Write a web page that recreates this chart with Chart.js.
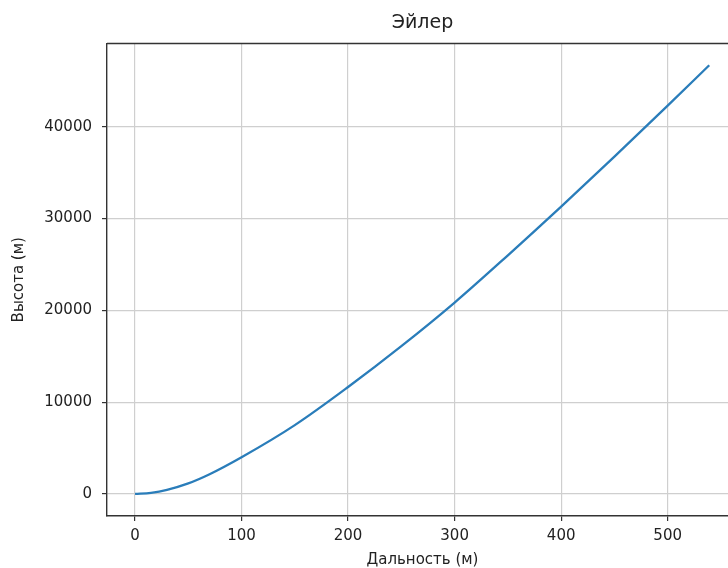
<!DOCTYPE html>
<html>
<head>
<meta charset="utf-8">
<script src="https://cdn.jsdelivr.net/npm/chart.js@4"></script>
<style>
  html, body { margin: 0; padding: 0; overflow: hidden; background: #fff; }
  #wrap { width: 760px; height: 568px; }
</style>
</head>
<body>
<div id="wrap"><canvas id="myChart"></canvas></div>
<script>
// trajectory
var rangeM = [0, 15, 30, 50, 70, 100, 150, 200, 250, 300, 350, 400, 450, 500, 539];
var heightM = [0, 130, 450, 1150, 2150, 4000, 7500, 11650, 16100, 20850, 26000, 31300, 36750, 42300, 46700];
var xTicks = [0, 100, 200, 300, 400, 500];
var yTicks = [0, 10000, 20000, 30000, 40000];

var points = rangeM.map(function(x, i){
  return {x: x, y: heightM[i]};
});

var ink = "#222";
var gridCol = "#cfcfcf";
var spineCol = "#333";

// top + right spines like matplotlib
var frame = {
  id: "frame",
  afterDraw: function(chart){
    var a = chart.chartArea, ctx = chart.ctx;
    ctx.save();
    ctx.strokeStyle = spineCol;
    ctx.lineWidth = 1.3;
    ctx.beginPath();
    ctx.moveTo(a.left, a.top);
    ctx.lineTo(a.right, a.top);
    ctx.lineTo(a.right, a.bottom);
    ctx.stroke();
    ctx.restore();
  }
};

function keepTicks(list){
  return function(scale){
    scale.ticks = list.map(function(v){ return {value: v}; });
  };
}

new Chart("myChart", {
  type: "scatter",
  data: {
    datasets: [{
      data: points,
      showLine: true,
      borderColor: "#2a7dba",
      borderWidth: 2.3,
      pointRadius: 0,
      cubicInterpolationMode: "monotone"
    }]
  },
  options: {
    responsive: true,
    maintainAspectRatio: false,
    animation: false,
    layout: { padding: { left: 0, right: 22, top: 0, bottom: 0 } },
    plugins: {
      legend: { display: false },
      tooltip: { enabled: false },
      title: {
        display: true,
        fullSize: false,
        text: "Эйлер",
        color: ink,
        font: { family: "DejaVu Sans", size: 19, weight: "normal", lineHeight: 1.2 },
        padding: { top: 12, bottom: 8.7 }
      }
    },
    scales: {
      x: {
        type: "linear",
        min: -26.3,
        max: 566,
        afterBuildTicks: keepTicks(xTicks),
        afterFit: function(s){ s.height = 52; },
        grid: { color: gridCol, lineWidth: 1.2, tickColor: spineCol, tickLength: 5, tickWidth: 1.2 },
        border: { display: true, color: spineCol, width: 1.4 },
        ticks: {
          color: ink, padding: 6, maxRotation: 0,
          font: { family: "DejaVu Sans", size: 15 }
        },
        title: {
          display: true,
          text: "Дальность (м)",
          color: ink,
          font: { family: "DejaVu Sans", size: 15, lineHeight: 1 },
          padding: { top: 0, bottom: 0 }
        }
      },
      y: {
        type: "linear",
        min: -2400,
        max: 49070,
        afterBuildTicks: keepTicks(yTicks),
        afterFit: function(s){ s.width = 107; },
        grid: { color: gridCol, lineWidth: 1.2, tickColor: spineCol, tickLength: 5, tickWidth: 1.2 },
        border: { display: true, color: spineCol, width: 1.4 },
        ticks: {
          color: ink, padding: 10,
          font: { family: "DejaVu Sans", size: 15 },
          callback: function(v){ return String(v); }
        },
        title: {
          display: true,
          text: "Высота (м)",
          color: ink,
          font: { family: "DejaVu Sans", size: 15, lineHeight: 1 },
          padding: { top: 12, bottom: 0 }
        }
      }
    }
  },
  plugins: [frame]
});
</script>
</body>
</html>
